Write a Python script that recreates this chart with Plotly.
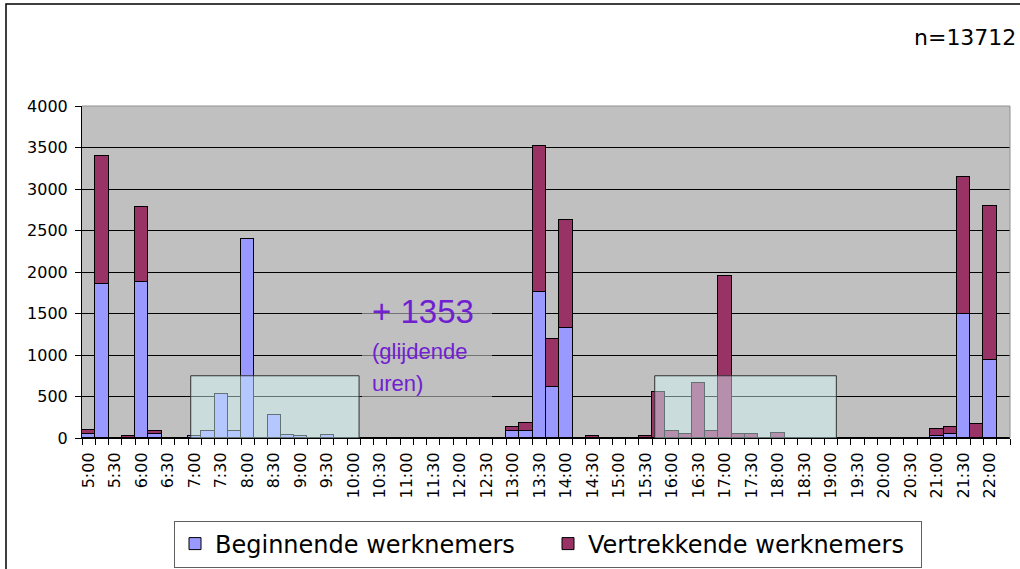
import plotly.graph_objects as go

# ---- data ----
times = ["5:00", "5:15", "5:30", "5:45", "6:00", "6:15", "6:30", "6:45",
         "7:00", "7:15", "7:30", "7:45", "8:00", "8:15", "8:30", "8:45",
         "9:00", "9:15", "9:30", "9:45", "10:00", "10:15", "10:30", "10:45",
         "11:00", "11:15", "11:30", "11:45", "12:00", "12:15", "12:30", "12:45",
         "13:00", "13:15", "13:30", "13:45", "14:00", "14:15", "14:30", "14:45",
         "15:00", "15:15", "15:30", "15:45", "16:00", "16:15", "16:30", "16:45",
         "17:00", "17:15", "17:30", "17:45", "18:00", "18:15", "18:30", "18:45",
         "19:00", "19:15", "19:30", "19:45", "20:00", "20:15", "20:30", "20:45",
         "21:00", "21:15", "21:30", "21:45", "22:00", "22:15"]

beginnende = [48, 1850, 0, 5, 1880, 45, 0, 0,
              25, 80, 530, 90, 2400, 0, 280, 40,
              25, 0, 40, 0, 0, 0, 0, 0,
              0, 0, 0, 0, 0, 0, 0, 0,
              90, 90, 1760, 610, 1330, 0, 5, 0,
              0, 0, 5, 0, 0, 0, 0, 0,
              0, 0, 0, 0, 0, 0, 0, 0,
              0, 0, 0, 0, 0, 0, 0, 0,
              30, 45, 1490, 0, 940, 0]

vertrekkende = [44, 1545, 0, 15, 905, 45, 0, 0,
                5, 0, 0, 0, 0, 0, 0, 0,
                0, 0, 0, 0, 0, 0, 0, 0,
                0, 0, 0, 0, 0, 0, 0, 0,
                40, 85, 1755, 585, 1295, 0, 15, 0,
                0, 0, 15, 555, 90, 45, 665, 85,
                1950, 45, 45, 0, 60, 0, 0, 0,
                0, 0, 0, 0, 0, 0, 0, 0,
                78, 85, 1660, 170, 1850, 0]

tick_text = [t if i % 2 == 0 else "" for i, t in enumerate(times)]

n_label = "n=13712"
glide_value = "+ 1353"
glide_note = ["(glijdende", "uren)"]
glide_height = 750
glide_morning = ("7:00", "10:00")
glide_afternoon = ("15:45", "19:00")

# ---- layout geometry ----
W, H = 1020, 569
ML, MR, MT, MB = 82, 10, 106, 131
PW, PH = W - ML - MR, H - MT - MB


def px_x(px):
    return (px - ML) / PW


def px_y(py):
    return (H - MB - py) / PH


FONT = "DejaVu Sans"
NARROW = "Liberation Sans, Arial, sans-serif"
PURPLE = "#7020D0"

fig = go.Figure()
fig.add_trace(go.Bar(x=times, y=beginnende, name="Beginnende werknemers",
                     marker=dict(color="#9999FF", line=dict(color="black", width=1))))
fig.add_trace(go.Bar(x=times, y=vertrekkende, name="Vertrekkende werknemers",
                     marker=dict(color="#993366", line=dict(color="black", width=1))))

shapes = []
# glide-time boxes
for a, b in (glide_morning, glide_afternoon):
    i0, i1 = times.index(a), times.index(b)
    shapes.append(dict(type="rect", xref="x", yref="y", x0=i0 - 0.3, x1=i1 + 0.4,
                       y0=-20, y1=glide_height, layer="above",
                       fillcolor="rgba(215,255,255,0.45)",
                       line=dict(color="#303030", width=1)))
# label box softening gridlines
shapes.append(dict(type="rect", xref="paper", yref="paper",
                   x0=px_x(362), x1=px_x(492), y0=px_y(402), y1=px_y(290),
                   layer="above", fillcolor="rgba(192,192,192,0.6)",
                   line=dict(width=0)))
# plot area top/right border (gray)
shapes.append(dict(type="line", xref="paper", yref="paper", x0=0, x1=1, y0=1, y1=1,
                   layer="above", line=dict(color="#909090", width=1)))
shapes.append(dict(type="line", xref="paper", yref="paper", x0=1, x1=1, y0=0, y1=1,
                   layer="above", line=dict(color="#909090", width=1)))
# outer chart frame
shapes.append(dict(type="rect", xref="paper", yref="paper",
                   x0=px_x(6), x1=px_x(W + 10), y0=px_y(H + 10), y1=px_y(4),
                   layer="above", line=dict(color="black", width=1.5)))

annotations = [
    dict(text=n_label, xref="paper", yref="paper", x=px_x(1018), y=px_y(37),
         xanchor="right", yanchor="middle", showarrow=False,
         font=dict(family=FONT, size=22, color="black")),
    dict(text=glide_value, xref="paper", yref="paper", x=px_x(370), y=px_y(311),
         xanchor="left", yanchor="middle", showarrow=False,
         font=dict(family=NARROW, size=33, color=PURPLE)),
    dict(text=glide_note[0], xref="paper", yref="paper", x=px_x(370), y=px_y(351),
         xanchor="left", yanchor="middle", showarrow=False,
         font=dict(family=NARROW, size=22, color=PURPLE)),
    dict(text=glide_note[1], xref="paper", yref="paper", x=px_x(370), y=px_y(383),
         xanchor="left", yanchor="middle", showarrow=False,
         font=dict(family=NARROW, size=22, color=PURPLE)),
]

fig.update_layout(
    width=W, height=H,
    margin=dict(l=ML, r=MR, t=MT, b=MB, pad=0, autoexpand=False),
    barmode="stack", bargap=0,
    paper_bgcolor="white", plot_bgcolor="#C0C0C0",
    font=dict(family=FONT, size=16, color="black"),
    showlegend=True,
    legend=dict(orientation="h", xref="container", yref="container",
                x=548 / W, y=1 - 544 / H, xanchor="center",
                yanchor="middle", bordercolor="#606060", borderwidth=1,
                bgcolor="white", font=dict(family=FONT, size=24, color="black"),
                entrywidth=328, entrywidthmode="pixels", traceorder="normal"),
    shapes=shapes,
    annotations=annotations,
)
fig.update_xaxes(type="category", categoryorder="array", categoryarray=times,
                 tickmode="array", tickvals=times, ticktext=tick_text,
                 tickson="boundaries", ticks="outside", ticklen=6, tickcolor="black",
                 tickangle=-90, showline=True, linecolor="black", linewidth=1,
                 showgrid=False, range=[-0.5, len(times) - 0.5], automargin=False,
                 ticklabelstandoff=7, tickfont=dict(family=FONT, size=16))
fig.update_yaxes(range=[0, 4000], dtick=500, ticks="outside", ticklen=6,
                 tickcolor="black", showline=True, linecolor="black", linewidth=1,
                 showgrid=True, gridcolor="black", gridwidth=1, zeroline=False,
                 automargin=False, ticklabelstandoff=4,
                 tickfont=dict(family=FONT, size=16))

fig.write_html("out.html", config={"displayModeBar": False},
               post_script="document.body.style.margin='0';"
                           "document.body.style.overflow='hidden';")
